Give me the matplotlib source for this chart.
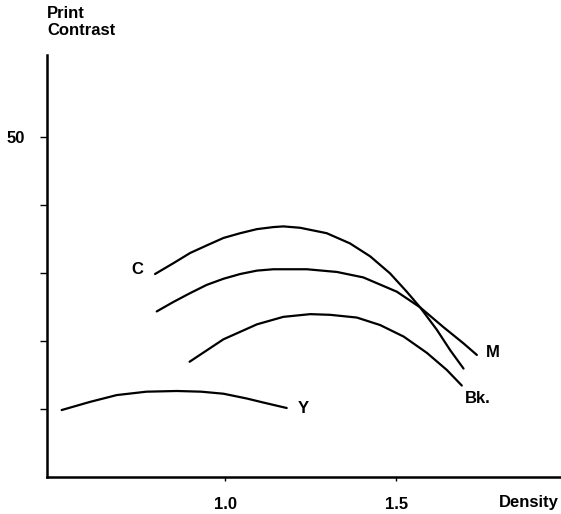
import matplotlib
matplotlib.use("Agg")
import matplotlib.pyplot as plt

plt.rcParams['font.family'] = ['Liberation Sans', 'DejaVu Sans']
plt.rcParams['font.weight'] = 'bold'

# Data (Density vs Print Contrast)
c_density = [0.795, 0.849, 0.898, 0.946, 0.995, 1.044, 1.093, 1.141, 1.170, 1.219,
             1.297, 1.365, 1.424, 1.482, 1.531, 1.570, 1.619, 1.658, 1.697]
c_contrast = [29.8, 31.4, 32.9, 34.0, 35.1, 35.8, 36.4, 36.7, 36.8, 36.6,
              35.8, 34.3, 32.4, 29.9, 27.2, 24.9, 21.6, 18.6, 15.9]

m_density = [0.800, 0.849, 0.898, 0.946, 0.995, 1.044, 1.093, 1.141, 1.239, 1.327,
             1.404, 1.502, 1.570, 1.638, 1.697, 1.736]
m_contrast = [24.3, 25.7, 27.0, 28.2, 29.1, 29.8, 30.3, 30.5, 30.5, 30.1,
              29.3, 27.2, 24.9, 22.0, 19.6, 17.9]

bk_density = [0.896, 0.995, 1.093, 1.170, 1.249, 1.307, 1.385, 1.453, 1.522, 1.590, 1.648, 1.692]
bk_contrast = [16.9, 20.2, 22.4, 23.5, 23.9, 23.8, 23.4, 22.3, 20.6, 18.2, 15.7, 13.4]

y_density = [0.522, 0.605, 0.683, 0.770, 0.859, 0.930, 0.995, 1.063, 1.112, 1.180]
y_contrast = [9.8, 11.0, 12.0, 12.5, 12.6, 12.5, 12.2, 11.5, 10.9, 10.1]

x_ticks = [1.0, 1.5]
x_tick_labels = ["1.0", "1.5"]
y_ticks = [10, 20, 30, 40, 50]
y_tick_labels = ["", "", "", "", "50"]

curve_labels = ["C", "M", "Bk.", "Y"]
label_pos = [(0.743, 30.4), (1.784, 18.2), (1.740, 11.5), (1.228, 10.0)]

fs = 12

fig = plt.figure(figsize=(5.61, 5.14), dpi=100)
ax = fig.add_axes([47.3 / 561, 1 - 476.7 / 514, 1 - 47.3 / 561, (476.7 - 55) / 514])

for xs, ys in [(c_density, c_contrast), (m_density, m_contrast),
               (bk_density, bk_contrast), (y_density, y_contrast)]:
    ax.plot(xs, ys, color='black', lw=1.6, solid_capstyle='round', solid_joinstyle='round')

for lab, (lx, ly) in zip(curve_labels, label_pos):
    ax.text(lx, ly, lab, ha='center', va='center', fontsize=fs, fontweight='bold')

ax.set_xlim(0.480, 1.982)
ax.set_ylim(0, 62)
ax.spines['top'].set_visible(False)
ax.spines['right'].set_visible(False)
ax.spines['left'].set_linewidth(1.8)
ax.spines['bottom'].set_linewidth(1.8)

ax.set_xticks(x_ticks)
ax.set_xticklabels(x_tick_labels)
ax.set_yticks(y_ticks)
ax.set_yticklabels(y_tick_labels)
ax.tick_params(axis='x', direction='out', length=3, width=1, pad=11.5, labelsize=fs)
ax.tick_params(axis='y', direction='out', length=5, width=1, pad=11, labelsize=fs)
for t in ax.get_xticklabels() + ax.get_yticklabels():
    t.set_fontweight('bold')

fig.text(47 / 561, 1 - 6 / 514, "Print\nContrast", ha='left', va='top',
         fontsize=fs, fontweight='bold', linespacing=1.15)
fig.text(529 / 561, 1 - 503 / 514, "Density", ha='center', va='center',
         fontsize=fs, fontweight='bold')

fig.savefig("out.png", dpi=100)
